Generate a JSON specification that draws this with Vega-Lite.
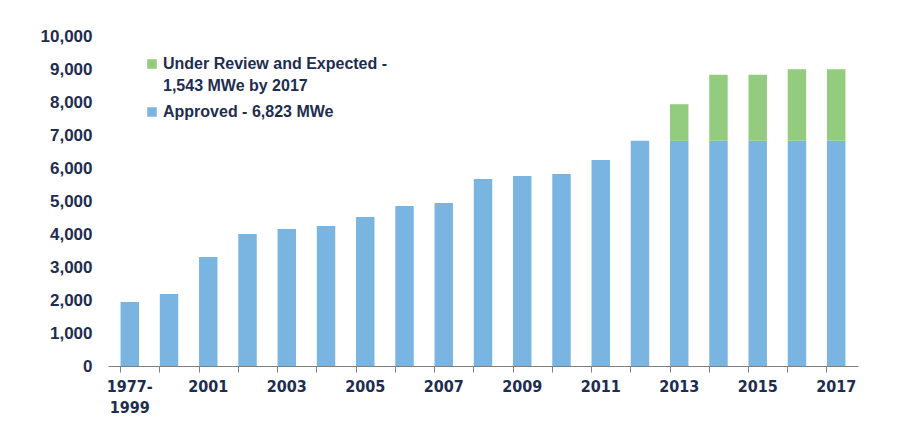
{
  "$schema": "https://vega.github.io/schema/vega-lite/v6.json",
  "width": 750,
  "height": 330,
  "autosize": "none",
  "padding": {"left": 108, "top": 36, "right": 39, "bottom": 69},
  "background": "white",
  "data": {
    "values": [
      {"period": "1977-1999", "cat": "Approved", "ord": 1, "mwe": 1940},
      {"period": "2000", "cat": "Approved", "ord": 1, "mwe": 2180},
      {"period": "2001", "cat": "Approved", "ord": 1, "mwe": 3300},
      {"period": "2002", "cat": "Approved", "ord": 1, "mwe": 4000},
      {"period": "2003", "cat": "Approved", "ord": 1, "mwe": 4150},
      {"period": "2004", "cat": "Approved", "ord": 1, "mwe": 4240},
      {"period": "2005", "cat": "Approved", "ord": 1, "mwe": 4515},
      {"period": "2006", "cat": "Approved", "ord": 1, "mwe": 4850},
      {"period": "2007", "cat": "Approved", "ord": 1, "mwe": 4940},
      {"period": "2008", "cat": "Approved", "ord": 1, "mwe": 5670},
      {"period": "2009", "cat": "Approved", "ord": 1, "mwe": 5760},
      {"period": "2010", "cat": "Approved", "ord": 1, "mwe": 5820},
      {"period": "2011", "cat": "Approved", "ord": 1, "mwe": 6240},
      {"period": "2012", "cat": "Approved", "ord": 1, "mwe": 6823},
      {"period": "2013", "cat": "Approved", "ord": 1, "mwe": 6823},
      {"period": "2014", "cat": "Approved", "ord": 1, "mwe": 6823},
      {"period": "2015", "cat": "Approved", "ord": 1, "mwe": 6823},
      {"period": "2016", "cat": "Approved", "ord": 1, "mwe": 6823},
      {"period": "2017", "cat": "Approved", "ord": 1, "mwe": 6823},
      {"period": "2013", "cat": "Review", "ord": 2, "mwe": 1110},
      {"period": "2014", "cat": "Review", "ord": 2, "mwe": 2000},
      {"period": "2015", "cat": "Review", "ord": 2, "mwe": 2000},
      {"period": "2016", "cat": "Review", "ord": 2, "mwe": 2170},
      {"period": "2017", "cat": "Review", "ord": 2, "mwe": 2170}
    ]
  },
  "mark": {"type": "bar"},
  "encoding": {
    "x": {
      "field": "period",
      "type": "nominal",
      "sort": null,
      "scale": {"paddingInner": 0.53, "paddingOuter": 0.32},
      "axis": {
        "title": null,
        "labelAngle": 0,
        "bandPosition": 0,
        "labelAlign": "center",
        "labelExpr": "datum.value == '1977-1999' ? ['1977-', '1999'] : (toNumber(datum.value) % 2 == 1 ? datum.value : '')",
        "labelFont": "DejaVu Sans Condensed",
        "labelFontWeight": "bold",
        "labelFontSize": 16,
        "labelColor": "#1e2d4f",
        "labelPadding": 6,
        "labelLineHeight": 21,
        "tickColor": "#7f7f7f",
        "tickSize": 6,
        "domainColor": "#7f7f7f",
        "labelOverlap": false
      }
    },
    "y": {
      "field": "mwe",
      "type": "quantitative",
      "aggregate": "sum",
      "stack": "zero",
      "scale": {"domain": [0, 10000]},
      "axis": {
        "title": null,
        "values": [0, 1000, 2000, 3000, 4000, 5000, 6000, 7000, 8000, 9000, 10000],
        "format": ",d",
        "grid": false,
        "domain": false,
        "ticks": false,
        "labelFont": "Liberation Sans",
        "labelFontWeight": "bold",
        "labelFontSize": 17,
        "labelColor": "#1e2d4f",
        "labelPadding": 16
      }
    },
    "color": {
      "field": "cat",
      "type": "nominal",
      "scale": {"domain": ["Review", "Approved"], "range": ["#93cc7e", "#7ab5e2"]},
      "legend": {
        "title": null,
        "orient": "none",
        "legendX": 36,
        "legendY": 20,
        "symbolType": "square",
        "symbolSize": 90,
        "symbolStrokeWidth": 0,
        "labelFont": "Liberation Sans",
        "labelFontWeight": "bold",
        "labelFontSize": 16,
        "labelColor": "#1e2d4f",
        "labelLimit": 400,
        "labelOffset": 3,
        "rowPadding": 10,
        "labelExpr": "datum.value == 'Review' ? ['Under Review and Expected -', '1,543 MWe by 2017'] : 'Approved - 6,823 MWe'",
        "encode": {"labels": {"update": {"lineHeight": {"value": 22}}}}
      }
    },
    "order": {"field": "ord", "type": "quantitative"}
  },
  "config": {"view": {"stroke": null}}
}
